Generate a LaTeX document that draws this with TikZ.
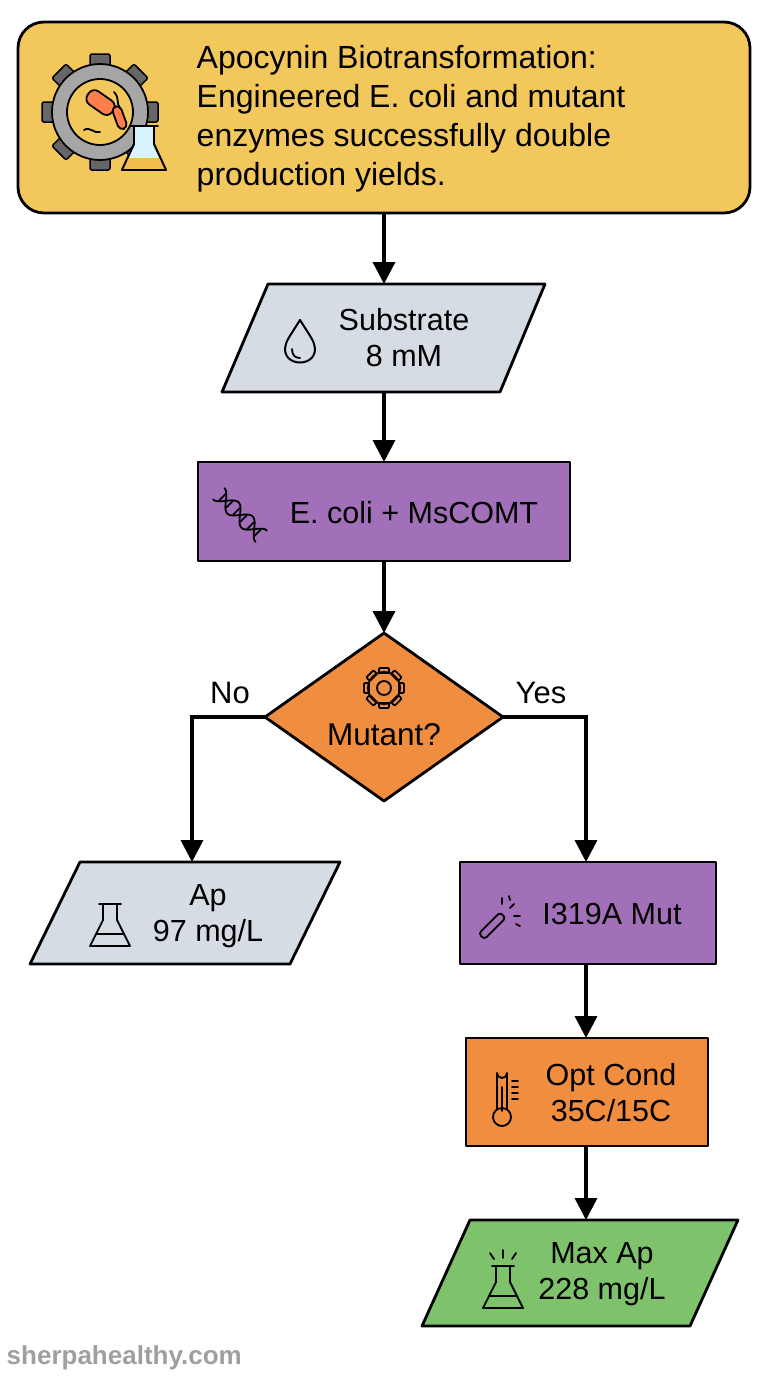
\documentclass[tikz,border=0pt]{standalone}
\usepackage{fontspec}
\setmainfont{Liberation Sans}
\usetikzlibrary{shapes.geometric,arrows.meta}
\definecolor{cy}{HTML}{F2C75C}
\definecolor{cg}{HTML}{D6DCE3}
\definecolor{cp}{HTML}{A270B8}
\definecolor{co}{HTML}{F08D3E}
\definecolor{cgr}{HTML}{7FC26C}
\begin{document}
\begin{tikzpicture}[x=1pt,y=-1pt,line width=2.8pt,
  box/.style={draw,line join=round},
  lbl/.style={font=\fontsize{30.5}{36}\selectfont,align=center},
  arr/.style={-{Triangle[length=22pt,width=22pt]},line width=3.5pt},
  ic/.style={line width=1.8pt,line cap=round,line join=round}]
\useasboundingbox (0,0) rectangle (768,1376);
% title
\draw[box,fill=cy,rounded corners=26pt] (18,22) rectangle (750,213);
\node[anchor=west,align=left,font=\fontsize{32}{39}\selectfont] (tt) at (192,119)
 {Apocynin Biotransformation:\\Engineered E. coli and mutant\\enzymes successfully double\\production yields.};
% title icon
\begin{scope}[shift={(100,112)}]
 \foreach \a in {0,45,...,315}{\fill[gray!80!black,draw=black,line width=1.5pt,rotate=\a,rounded corners=2pt] (-10,-58) rectangle (10,-42);}
 \draw[fill=gray!70,line width=1.8pt] (0,0) circle (48);
 \draw[fill=cy,line width=1.8pt] (0,0) circle (33);
 \draw[ic,fill=red!45!orange!70,rotate=-35,rounded corners=7pt] (-20,-16) rectangle (10,0);
 \draw[ic,fill=red!45!orange!70,rotate=20,rounded corners=5pt] (12,0) rectangle (21,24);
 \draw[ic] (14,-20) .. controls (20,-14) and (16,-8) .. (20,-4);
 \draw[ic] (-16,18) .. controls (-10,14) and (-6,22) .. (0,20);
 \draw[ic,fill=cyan!15] (34,14) -- (34,32) -- (22,58) -- (66,58) -- (54,32) -- (54,14) -- cycle;
 \fill[cy!85!orange] (28,46) -- (60,46) -- (65,57) -- (23,57) -- cycle;
 \draw[ic] (34,14) -- (34,32) -- (22,58) -- (66,58) -- (54,32) -- (54,14) -- cycle;
 \draw[ic] (30,14) -- (58,14);
\end{scope}
% substrate
\draw[box,fill=cg] (268,284) -- (545,284) -- (500,392) -- (222,392) -- cycle;
\node[lbl] (sub) at (404,338) {Substrate\\8 mM};
\coordinate (subT) at (384,284); \coordinate (subB) at (384,392);
\draw[ic,line width=2pt] (300,320) .. controls (290,336) and (285,342) .. (285,349) .. controls (285,367) and (315,367) .. (315,349) .. controls (315,342) and (310,336) .. (300,320);
\draw[ic] (292,349) .. controls (292,355) and (295,358) .. (300,358);
% ecoli
\draw[box,fill=cp] (198,462) rectangle (570,561);
\node[lbl] (eco) at (414,513) {E. coli + MsCOMT};
\coordinate (ecoT) at (384,462); \coordinate (ecoB) at (384,561);
\begin{scope}[shift={(240,515)},ic,rotate=-45]
 \draw[domain=-30:30,samples=40] plot (\x,{8*sin(\x*9)});
 \draw[domain=-30:30,samples=40] plot (\x,{-8*sin(\x*9)});
 \foreach \t in {-25,-15,-5,5,15,25} \draw (\t,{-8*abs(sin(\t*9))+1}) -- (\t,{8*abs(sin(\t*9))-1});
\end{scope}
% diamond
\draw[box,fill=co] (384,633) -- (503,717) -- (384,801) -- (265,717) -- cycle;
\coordinate (dT) at (384,633); \coordinate (dL) at (265,717); \coordinate (dR) at (503,717);
\node[lbl,font=\fontsize{31.5}{36}\selectfont] (mut) at (384,735) {Mutant?};
\begin{scope}[shift={(384,688)},ic]
 \foreach \a in {0,45,...,315}{\draw[rotate=\a,rounded corners=1pt] (-5,-20) rectangle (5,-15);}
 \draw (0,0) circle (16); \draw (0,0) circle (7);
\end{scope}
\node[lbl,font=\fontsize{31}{36}\selectfont] (no) at (230,693) {No};
\node[lbl,font=\fontsize{31}{36}\selectfont] (yes) at (541,693) {Yes};
% Ap
\draw[box,fill=cg] (80,862) -- (340,862) -- (290,964) -- (30,964) -- cycle;
\node[lbl] (ap) at (208,916) {Ap\\97 mg/L};
\coordinate (apT) at (192,862);
% I319A
\draw[box,fill=cp] (460,862) rectangle (716,964);
\node[lbl] (mu) at (612,914) {I319A Mut};
\coordinate (muT) at (586,862); \coordinate (muB) at (586,964);
\begin{scope}[shift={(500,918)},ic]
 \draw[rotate=-45,rounded corners=3pt] (-4,-4) rectangle (4,26);
 \draw (10,-10) -- (14,-14); \draw (14,-2) -- (20,-2); \draw (2,-14) -- (2,-20); \draw (16,6) -- (20,8); \draw (9,-22)--(10,-18);
\end{scope}
% opt
\draw[box,fill=co] (466,1038) rectangle (708,1146);
\node[lbl] (opt) at (611,1093) {Opt Cond\\35C/15C};
\coordinate (optT) at (586,1038); \coordinate (optB) at (586,1146);
\begin{scope}[shift={(502,1095)},ic]
 \draw (-5,14) -- (-5,-22) arc (180:0:5) -- (5,14);
 \draw (0,22) circle (9);
 \draw (0,16) -- (0,-8);
 \foreach \y in {-14,-8,-2,4} \draw (10,\y) -- (16,\y);
\end{scope}
% Max Ap
\draw[box,fill=cgr] (470,1220) -- (738,1220) -- (690,1326) -- (422,1326) -- cycle;
\node[lbl] (max) at (602,1274) {Max Ap\\228 mg/L};
\coordinate (maxT) at (586,1220);
\begin{scope}[shift={(503,1290)},ic]
 \draw (-7,-24) -- (-7,-8) -- (-20,18) -- (20,18) -- (7,-8) -- (7,-24);
 \draw (-11,-24)--(11,-24); \draw (-14,6) -- (14,6);
 \draw (0,-32)--(0,-40); \draw (-9,-31)--(-13,-37); \draw (9,-31)--(13,-37);
\end{scope}
\begin{scope}[shift={(110,928)},ic]
 \draw (-7,-24) -- (-7,-8) -- (-20,18) -- (20,18) -- (7,-8) -- (7,-24);
 \draw (-11,-24)--(11,-24); \draw (-14,6) -- (14,6);
\end{scope}
% arrows
\coordinate (tB) at (384,213);
\draw[arr] (tB) -- (subT);
\draw[arr] (subB) -- (ecoT);
\draw[arr] (ecoB) -- (dT);
\draw[arr] (dL) -| (apT);
\draw[arr] (dR) -| (muT);
\draw[arr] (muB) -- (optT);
\draw[arr] (optB) -- (maxT);
\node[anchor=west,text=gray!75,font=\bfseries\fontsize{26}{30}\selectfont] (wm) at (2,1358) {sherpahealthy.com};
\end{tikzpicture}
\end{document}
